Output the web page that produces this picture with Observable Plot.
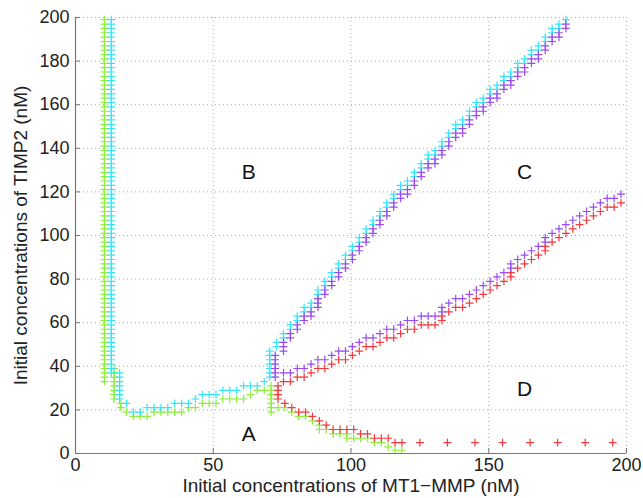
<!DOCTYPE html>
<html><head><meta charset="utf-8">
<script src="https://cdn.jsdelivr.net/npm/d3@7"></script>
<script src="https://cdn.jsdelivr.net/npm/@observablehq/plot@0.6"></script>
<style>body{margin:0;background:#fff;} svg{overflow:visible;}</style>
</head><body><div id="chart"></div>
<script>
// Tick values
const xTicks = [0, 50, 100, 150, 200];
const yTicks = [0, 20, 40, 60, 80, 100, 120, 140, 160, 180, 200];
// Region labels (data coordinates)
const regionNames = ["A", "B", "C", "D"];
const regionX = [62.9, 62.9, 163, 163];
const regionY = [9, 129, 129, 29.6];
const xTitle = "Initial concentrations of MT1\u2212MMP (nM)";
const yTitle = "Initial concentrations of TIMP2 (nM)";

// Each column: [x, y1, y2, ...] marker positions
const greenWall = [
  [10.5, 33,35,37,39,41,43,45,47,49,51,53,55,57,59,61,63,65,67,69,71,73,75,77,79,81,83,85,87,89,91,93,95,97,99,101,103,105,107,109,111,113,115,117,119,121,123,125,127,129,131,133,135,137,139,141,143,145,147,149,151,153,155,157,159,161,163,165,167,169,171,173,175,177,179,181,183,185,187,189,191,193,195,197,199],
  [14, 25,27,29,31,33,35,37,39]
];
const greenFloor = [
  [16.5,21,23],[18.5,19],[21,17],[23.5,17],[26,17],[28.5,19],[31,19],[33.5,19],[36,19],[38.5,19],
  [41,21],[43.5,21],[46,23],[48.5,23],[51,23],[53.5,25],[56,25],[58.5,25],[61,25],[63.5,27],[66,29],[68.5,29],
  [71,19,21,23,25,27,29,31]
];
const greenLower = [
  [73.5,21],[76,21],[78.5,19],[81,17],[83.5,17],[86,15],[88.5,13,11],[91,11],[93.5,9],[96,9],[98.5,9,7],
  [101,7],[103.5,7],[106,7],[108.5,5],[111,5],[113.5,3],[116,1.5],[118.5,1.5]
];
const cyanWall = [
  [13, 37,39,41,43,45,47,49,51,53,55,57,59,61,63,65,67,69,71,73,75,77,79,81,83,85,87,89,91,93,95,97,99,101,103,105,107,109,111,113,115,117,119,121,123,125,127,129,131,133,135,137,139,141,143,145,147,149,151,153,155,157,159,161,163,165,167,169,171,173,175,177,179,181,183,185,187,189,191,193,195,197,199],
  [16, 25,27,29,31,33,35,37]
];
const cyanFloor = [
  [18.5,23],[21,19],[23.5,19],[26,21],[28.5,21],[31,21],[33.5,21],[36,23],[38.5,23],[41,23],[43.5,25],
  [46,27],[48.5,27],[51,27],[53.5,29],[56,29],[58.5,29],[61,31],[63.5,31],[66,31],[68.5,33],
  [70.5,35,37,39,41,43,45,47]
];
const cyanUpper = [
  [73,49,51],[75.5,53,55],[78,57,59],[80.5,61,63],[83,65,67],[85.5,67,69],[88,71,73,75],[90.5,77,79],[93,81,83],
  [95.5,85,87],[98,89,91],[100.5,93,95],[103,97,99],[105.5,101,103],[108,105,107],[110.5,109,111],[113,113,115],
  [115.5,117,119],[118,121,123],[120.5,123,125],[123,127,129],[125.5,131,133],[128,135,137],[130.5,137,139],
  [133,141,143],[135.5,145,147],[138,149,151],[140.5,151,153],[143,155,157],[145.5,159,161],[148,161,163],
  [150.5,165,167],[153,167,169],[155.5,171,173],[158,173,175],[160.5,177,179],[163,179,181],[165.5,183,185],
  [168,185,187],[170.5,189,191],[173,193,195],[175.5,195,197],[178,199]
];
const purpleUpper = [
  [72.5,35,37,39,41,43,45],[75.5,47,49,51],[78,53,55],[80.5,57,59],[83,61,63],[85.5,63,65],[88,67,69,71],
  [90.5,73,75],[93,77,79],[95.5,81,83],[98,85,87],[100.5,89,91],[103,93,95],[105.5,97,99],[108,101,103],
  [110.5,105,107],[113,109,111],[115.5,113,115],[118,117,119],[120.5,119,121],[123,123,125],[125.5,127,129],
  [128,131,133],[130.5,133,135],[133,137,139],[135.5,141,143],[138,145,147],[140.5,147,149],[143,151,153],
  [145.5,155,157],[148,157,159],[150.5,161,163],[153,163,165],[155.5,167,169],[158,169,171],[160.5,173,175],
  [163,175,177],[165.5,179,181],[168,181,183],[170.5,185,187],[173,189,191],[175.5,191,193],[178,195,197]
];
const purpleMiddle = [
  [75.5,37],[78,37],[80.5,39],[83,39],[85.5,41],[88,43],[90.5,43],[93,45],[95.5,47],[98,47],[100.5,49],
  [103,51],[105.5,53],[108,53],[110.5,55],[113,57],[115.5,57],[118,59],[120.5,61],[123,61],[125.5,63],
  [128,63],[130.5,63],[133,65,67],[135.5,69],[138,71],[140.5,71],[143,73],[145.5,75],[148,77],[150.5,79],
  [153,81],[155.5,83],[158,85,87],[160.5,89],[163,91],[165.5,93],[168,95],[170.5,97,99],[173,101],
  [175.5,103],[178,105],[180.5,107],[183,109],[185.5,111],[188,113],[190.5,115],[193,117],[195.5,117],[198,119]
];
const redMiddle = [
  [73.5,25,27,29,31],[75.5,33],[78,33],[80.5,35],[83,35],[85.5,37],[88,39],[90.5,39],[93,41],[95.5,43],[98,43],
  [100.5,45],[103,47],[105.5,49],[108,49],[110.5,51],[113,53],[115.5,53],[118,55],[120.5,57],[123,57],
  [125.5,59],[128,59],[130.5,59],[133,61,63],[135.5,65],[138,67],[140.5,67],[143,69],[145.5,71],[148,73],
  [150.5,75],[153,77],[155.5,79],[158,81,83],[160.5,85],[163,87],[165.5,89],[168,91],[170.5,93,95],[173,97],
  [175.5,99],[178,101],[180.5,103],[183,105],[185.5,107],[188,109],[190.5,111],[193,113],[195.5,113],[198,115]
];
const redLower = [
  [76,23],[78.5,21],[81,19],[83.5,19],[86,17],[88.5,15],[91,13],[93.5,11],[96,11],[98.5,11],[101,11],
  [103.5,9],[106,9],[108.5,7],[111,7],[113.5,7],[116,5],[118.5,5],
  [125,5],[135,5],[145,5],[155,5],[165,5],[175,5],[185,5],[195,5]
];

const colors = {green: "#8cf03c", cyan: "#36e6f6", purple: "#9a4cf0", red: "#f23a3e"};

function expand(cols, series) {
  const out = [];
  for (const [x, ...ys] of cols) for (const y of ys) out.push({x, y, series});
  return out;
}
const greenData = [...expand(greenWall, "green"), ...expand(greenFloor, "green"), ...expand(greenLower, "green")];
const cyanData = [...expand(cyanWall, "cyan"), ...expand(cyanFloor, "cyan"), ...expand(cyanUpper, "cyan")];
const purpleData = [...expand(purpleUpper, "purple"), ...expand(purpleMiddle, "purple")];
const redData = [...expand(redMiddle, "red"), ...expand(redLower, "red")];

const plus = {
  draw(ctx, size) {
    const r = Math.sqrt(size / Math.PI);
    ctx.moveTo(-r, 0); ctx.lineTo(r, 0);
    ctx.moveTo(0, -r); ctx.lineTo(0, r);
  }
};
const dotOpts = (c) => ({x: "x", y: "y", symbol: plus, r: 3.9, stroke: c, fill: "none", strokeWidth: 1.2});

const chart = Plot.plot({
  width: 643, height: 498,
  marginLeft: 75, marginRight: 17, marginTop: 17, marginBottom: 45,
  style: {fontFamily: "'Liberation Sans', Arial, sans-serif", background: "#fff", color: "#222"},
  x: {domain: [0, 200]},
  y: {domain: [0, 200]},
  marks: [
    Plot.gridX(xTicks, {stroke: "#aaa", strokeOpacity: 1, strokeDasharray: "1,3"}),
    Plot.gridY(yTicks, {stroke: "#aaa", strokeOpacity: 1, strokeDasharray: "1,3"}),
    Plot.dot(greenData, dotOpts(colors.green)),
    Plot.dot(cyanData, dotOpts(colors.cyan)),
    Plot.dot(redData, dotOpts(colors.red)),
    Plot.dot(purpleData, dotOpts(colors.purple)),
    Plot.ruleX([0], {stroke: "#777", strokeWidth: 1.2}),
    Plot.ruleY([0], {stroke: "#777", strokeWidth: 1.2}),
    Plot.axisX(xTicks, {tickSize: -5, tickPadding: 10, stroke: "#777", fill: "#222", fontSize: 18, label: null}),
    Plot.axisY(yTicks, {tickSize: -5, tickPadding: 11, stroke: "#777", fill: "#222", fontSize: 18, label: null}),
    Plot.text(regionNames, {x: (d, i) => regionX[i], y: (d, i) => regionY[i], text: d => d, fontSize: 21, fill: "#111"}),
    Plot.text([xTitle], {frameAnchor: "bottom", textAnchor: "middle", dy: 38, fontSize: 19, fill: "#222"}),
    Plot.text([yTitle], {frameAnchor: "left", textAnchor: "middle", dx: -55, rotate: -90, fontSize: 19, fill: "#222"})
  ]
});
document.getElementById("chart").appendChild(chart);
</script>
</body></html>
